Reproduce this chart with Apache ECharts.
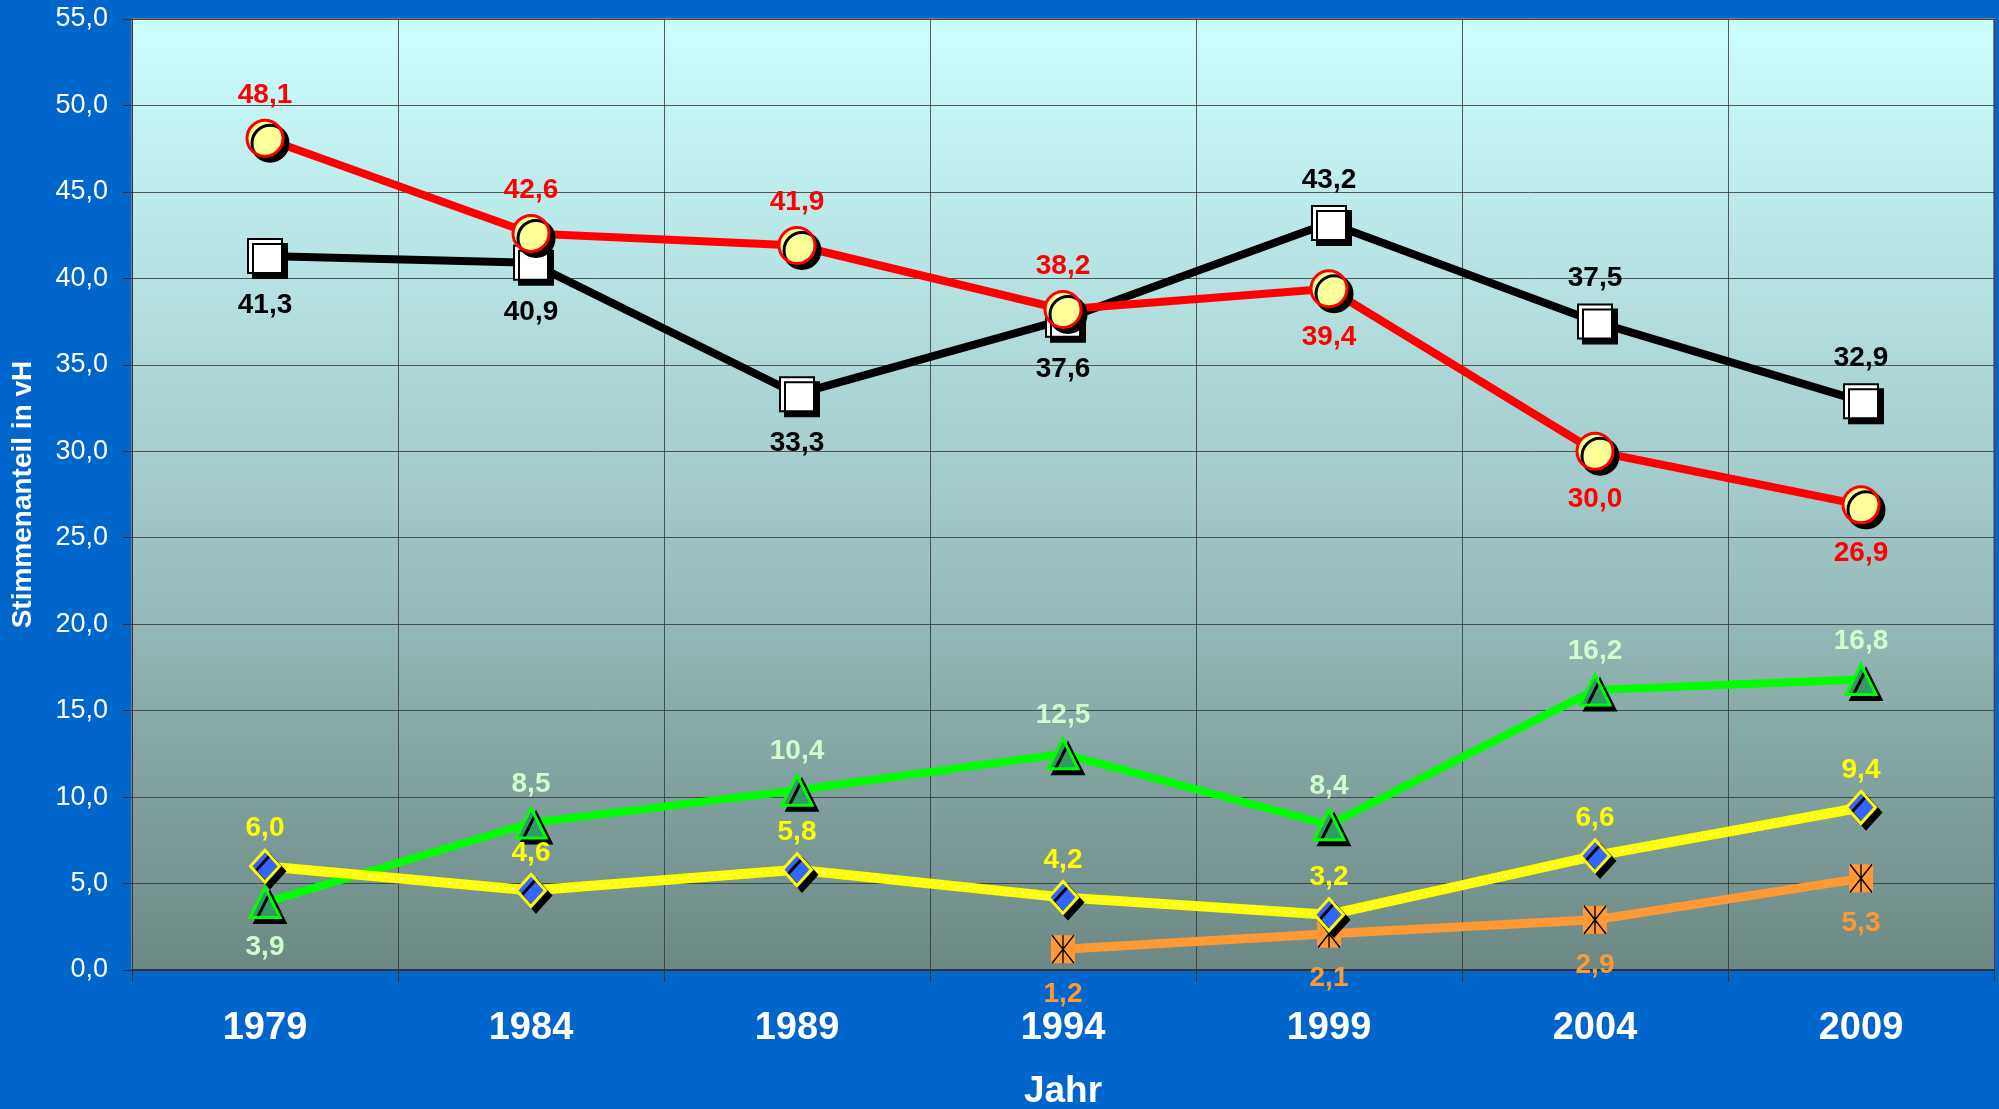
<!DOCTYPE html>
<html>
<head>
<meta charset="utf-8">
<script src="https://cdn.jsdelivr.net/npm/echarts@6/dist/echarts.min.js"></script>
<style>
  html, body { margin: 0; padding: 0; background: #0066CC; }
  #chart { width: 1999px; height: 1109px; }
</style>
</head>
<body>
<div id="chart"></div>
<script>
// Jahre (Kategorien)
var years = ['1979', '1984', '1989', '1994', '1999', '2004', '2009'];
// Stimmenanteile in vH
var schwarz = [41.3, 40.9, 33.3, 37.6, 43.2, 37.5, 32.9];
var rot = [48.1, 42.6, 41.9, 38.2, 39.4, 30.0, 26.9];
var gruen = [3.9, 8.5, 10.4, 12.5, 8.4, 16.2, 16.8];
var gelb = [6.0, 4.6, 5.8, 4.2, 3.2, 6.6, 9.4];
var orange = [null, null, null, 1.2, 2.1, 2.9, 5.3];
// Y-Achse
var yTicks = [0, 5, 10, 15, 20, 25, 30, 35, 40, 45, 50, 55];

// Lage der Wertbeschriftungen
var schwarzPos = ['bottom', 'bottom', 'bottom', 'bottom', 'top', 'top', 'top'];
var rotPos = ['top', 'top', 'top', 'top', 'bottom', 'bottom', 'bottom'];
var gruenPos = ['bottom', 'top', 'top', 'top', 'top', 'top', 'top'];
var gelbPos = ['top', 'top', 'top', 'top', 'top', 'top', 'top'];
var orangePos = ['bottom', 'bottom', 'bottom', 'bottom', 'bottom', 'bottom', 'bottom'];

function fmt(v) {
    return v.toFixed(1).replace('.', ',');
}

// Werte mit Beschriftungsposition verbinden (oben/unten mit eigenem Abstand)
function withPos(values, pos, distTop, distBottom) {
    return values.map(function (v, i) {
        if (v == null) return null;
        return { value: v, label: { position: pos[i], distance: pos[i] == 'top' ? distTop : distBottom } };
    });
}

var shadow = { shadowColor: '#000', shadowBlur: 0, shadowOffsetX: 5, shadowOffsetY: 5 };

function label(color) {
    return {
        show: true,
        color: color,
        fontFamily: 'Liberation Sans, Arial, sans-serif',
        fontWeight: 'bold',
        fontSize: 28,
        formatter: function (p) { return fmt(p.value); }
    };
}

var myChart = echarts.init(document.getElementById('chart'));

var option = {
    backgroundColor: '#0066CC',
    animation: false,
    grid: {
        left: 132,
        right: 5,
        top: 19,
        bottom: 139,
        containLabel: false,
        outerBoundsMode: 'none',
        show: true,
        borderColor: '#808080',
        borderWidth: 2,
        backgroundColor: new echarts.graphic.LinearGradient(0, 0, 0, 1, [
            { offset: 0, color: '#CCFFFF' },
            { offset: 0.5, color: '#A2CACA' },
            { offset: 1, color: '#6C8884' }
        ])
    },
    xAxis: {
        type: 'category',
        data: years,
        boundaryGap: true,
        name: 'Jahr',
        nameLocation: 'middle',
        nameGap: 103,
        nameTextStyle: { color: '#fff', fontSize: 37, fontWeight: 'bold', fontFamily: 'Liberation Sans, Arial, sans-serif' },
        axisLine: { show: true, lineStyle: { color: '#333', width: 2 } },
        axisTick: { show: true, length: 12, lineStyle: { color: '#333' } },
        axisLabel: { color: '#fff', fontSize: 38, fontWeight: 'bold', margin: 40, fontFamily: 'Liberation Sans, Arial, sans-serif' },
        splitLine: { show: true, interval: 0, lineStyle: { color: '#333', width: 1, opacity: 0.8 } }
    },
    yAxis: {
        type: 'value',
        min: yTicks[0],
        max: yTicks[yTicks.length - 1],
        interval: 5,
        name: 'Stimmenanteil in vH',
        nameLocation: 'middle',
        nameGap: 95,
        nameTextStyle: { color: '#fff', fontSize: 28, fontWeight: 'bold', fontFamily: 'Liberation Sans, Arial, sans-serif' },
        axisLine: { show: true, lineStyle: { color: '#333', width: 1 } },
        axisTick: { show: true, length: 9, lineStyle: { color: '#333' } },
        axisLabel: { color: '#fff', fontSize: 27, margin: 24, fontFamily: 'Liberation Sans, Arial, sans-serif', formatter: fmt },
        splitLine: { show: true, lineStyle: { color: '#333', width: 1, opacity: 0.8 } }
    },
    series: [
        {
            name: 'schwarz',
            type: 'line',
            data: withPos(schwarz, schwarzPos, 11, 17),
            symbol: 'rect',
            symbolSize: 34,
            lineStyle: { color: '#000', width: 8 },
            itemStyle: Object.assign({ color: '#fff', borderColor: '#000', borderWidth: 2 }, shadow),
            label: label('#000')
        },
        {
            name: 'rot',
            type: 'line',
            data: withPos(rot, rotPos, 10, 15),
            symbol: 'circle',
            symbolSize: 36,
            lineStyle: { color: '#FF0000', width: 8 },
            itemStyle: Object.assign({ color: '#FFFF99', borderColor: '#FF0000', borderWidth: 3 }, shadow),
            label: label('#FF0000')
        },
        {
            name: 'gruen',
            type: 'line',
            data: withPos(gruen, gruenPos, 8, 14),
            symbol: 'triangle',
            symbolSize: 30,
            lineStyle: { color: '#00FF00', width: 8 },
            itemStyle: Object.assign({ color: '#339966', borderColor: '#00FF00', borderWidth: 3 }, shadow),
            label: label('#CCFFCC')
        },
        {
            name: 'orange',
            type: 'line',
            data: withPos(orange, orangePos, 8, 17),
            symbol: 'rect',
            symbolSize: [24, 28],
            lineStyle: { color: '#FF9933', width: 9 },
            itemStyle: { color: '#FF9933', borderWidth: 0 },
            label: label('#FF9933')
        },
        {
            // Kreuz im orangen Marker
            name: 'orangeKreuz',
            type: 'line',
            data: orange,
            symbol: 'path://M0,0 L10,12 M10,0 L0,12 M5,0 L5,12',
            symbolSize: [22, 28],
            showAllSymbol: true,
            silent: true,
            lineStyle: { width: 0, opacity: 0 },
            itemStyle: { color: 'none', borderColor: '#000', borderWidth: 1.5 },
            label: { show: false }
        },
        {
            name: 'gelbLinie',
            type: 'line',
            data: gelb,
            symbol: 'none',
            lineStyle: { color: '#FFFF00', width: 10 },
            silent: true
        },
        {
            // weisse Punkte auf der gelben Linie
            name: 'gelbPunkte',
            type: 'line',
            data: gelb,
            symbol: 'none',
            lineStyle: { color: '#FFFFCC', width: 2, type: [2, 6] },
            silent: true
        },
        {
            name: 'gelb',
            type: 'line',
            data: withPos(gelb, gelbPos, 6, 12),
            symbol: 'diamond',
            symbolSize: [29, 32],
            lineStyle: { width: 0, opacity: 0 },
            itemStyle: Object.assign({ color: '#3366FF', borderColor: '#FFFF00', borderWidth: 3 }, shadow),
            label: label('#FFFF00')
        }
    ]
};

myChart.setOption(option);
</script>
</body>
</html>
